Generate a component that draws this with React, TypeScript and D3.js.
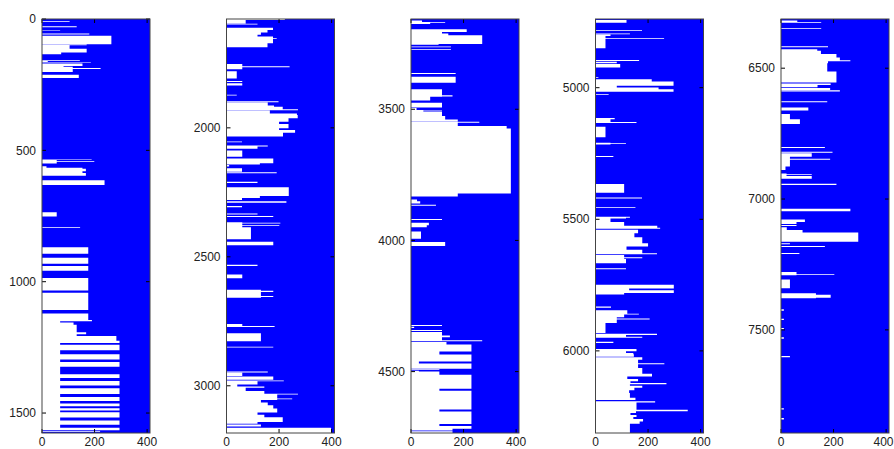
import React from 'react';
import * as d3 from 'd3';

// x axis (value) ticks and domain
const xTicks = [0, 200, 400];
const xDomain: [number, number] = [0, 411];

// depth range shown in each panel
const panelDomains: [number, number][] = [
  [0, 1576],
  [1578, 3183],
  [3156, 4734],
  [4739, 6312],
  [6312, 7894],
];

const panelYTicks: number[][] = [
  [0, 500, 1000, 1500],
  [2000, 2500, 3000],
  [3500, 4000, 4500],
  [5000, 5500, 6000],
  [6500, 7000, 7500],
];

// [top depth, bottom depth, value]
const seg1: [number, number, number][] = [
  [8, 10, 105], [28, 31, 132], [42, 44, 69], [55, 59, 180], [64, 96, 264],
  [97, 100, 170], [100, 113, 105], [113, 128, 170], [128, 134, 73],
  [157, 160, 144], [160, 164, 22], [165, 167, 186], [169, 179, 154], [179, 182, 82],
  [182, 187, 117], [187, 190, 223], [190, 202, 117], [212, 225, 140],
  [535, 537, 189], [541, 543, 199], [536, 550, 56], [561, 566, 17], [566, 570, 154],
  [570, 580, 167], [580, 586, 154], [586, 597, 167], [614, 632, 238], [736, 752, 56],
  [792, 795, 145], [869, 894, 176], [909, 932, 176], [940, 958, 176], [986, 1034, 176],
  [1042, 1108, 176], [1121, 1149, 176], [1146, 1151, 190], [1149, 1566, 69],
  [1155, 1164, 120], [1164, 1192, 132], [1192, 1200, 168], [1200, 1207, 132],
  [1207, 1225, 283], [1225, 1233, 295],
  [1240, 1261, 295], [1276, 1296, 295], [1306, 1324, 295], [1352, 1367, 295],
  [1378, 1395, 295], [1406, 1428, 295], [1439, 1454, 295], [1464, 1474, 295],
  [1482, 1490, 295], [1497, 1517, 295], [1528, 1545, 295], [1556, 1566, 295],
  [1568, 1571, 221],
];

const seg2: [number, number, number][] = [
  [1578, 1582, 222], [1582, 1595, 73], [1596, 1599, 118], [1612, 1621, 177],
  [1621, 1630, 156], [1630, 1639, 131], [1639, 1646, 118], [1646, 1672, 177],
  [1653, 1656, 191], [1672, 1688, 156], [1752, 1773, 60], [1761, 1765, 240],
  [1781, 1809, 39], [1818, 1822, 60], [1827, 1836, 60], [1872, 1875, 39],
  [1897, 1901, 198], [1902, 1913, 157], [1913, 1918, 181], [1918, 1928, 214],
  [1928, 1932, 272], [1933, 1944, 165], [1944, 1950, 268], [1950, 1963, 271],
  [1963, 1976, 236], [1976, 1985, 200], [1985, 2002, 236], [2002, 2008, 200],
  [2008, 2019, 261], [2019, 2034, 215], [2053, 2056, 59], [2068, 2072, 157],
  [2072, 2081, 118], [2088, 2112, 60], [2119, 2137, 178], [2137, 2142, 127],
  [2144, 2150, 10], [2157, 2170, 59], [2172, 2176, 191], [2209, 2214, 118],
  [2230, 2264, 237], [2264, 2272, 127], [2272, 2280, 59], [2285, 2290, 228],
  [2303, 2308, 59], [2332, 2336, 118], [2342, 2346, 178], [2366, 2385, 60],
  [2368, 2371, 205], [2377, 2380, 201], [2385, 2432, 93], [2442, 2455, 178],
  [2531, 2536, 118], [2569, 2583, 60], [2628, 2659, 131], [2632, 2636, 178],
  [2652, 2656, 178], [2760, 2770, 60], [2768, 2772, 183], [2796, 2827, 131],
  [2849, 2852, 178], [2945, 2948, 157], [2949, 2962, 60], [2964, 2977, 178],
  [2979, 2982, 218], [2982, 2995, 118], [2995, 3003, 41], [3003, 3008, 144],
  [3008, 3020, 73], [3020, 3031, 144], [3031, 3034, 272], [3034, 3055, 193],
  [3049, 3052, 250], [3055, 3065, 131], [3065, 3075, 157], [3075, 3088, 178],
  [3088, 3104, 193], [3104, 3112, 118], [3112, 3122, 144], [3122, 3140, 214],
  [3140, 3147, 118], [3150, 3158, 131], [3163, 3184, 398],
];

const seg3: [number, number, number][] = [
  [3162, 3167, 42], [3167, 3170, 130], [3170, 3175, 73], [3195, 3206, 212],
  [3206, 3211, 118], [3211, 3218, 142], [3218, 3251, 271], [3252, 3255, 105],
  [3261, 3264, 152], [3270, 3273, 152], [3362, 3366, 170], [3376, 3399, 170],
  [3424, 3452, 118], [3447, 3451, 158], [3452, 3467, 73], [3475, 3493, 118],
  [3495, 3503, 21], [3503, 3510, 47], [3505, 3508, 118], [3510, 3526, 118],
  [3526, 3539, 130], [3539, 3547, 178], [3548, 3551, 260], [3551, 3564, 178],
  [3564, 3573, 364], [3573, 3821, 380], [3821, 3833, 178], [3844, 3851, 23],
  [3851, 3859, 35], [3864, 3868, 95], [3918, 3922, 118], [3933, 3942, 68],
  [3942, 3950, 60], [3966, 3994, 38], [4006, 4021, 130], [4322, 4326, 118],
  [4329, 4334, 12], [4341, 4345, 118], [4349, 4362, 118], [4362, 4369, 148],
  [4369, 4380, 118], [4380, 4384, 271], [4387, 4397, 135], [4397, 4423, 230],
  [4423, 4435, 108], [4435, 4461, 230], [4461, 4469, 30], [4469, 4489, 230],
  [4491, 4494, 108], [4497, 4500, 30], [4500, 4512, 108], [4512, 4565, 230],
  [4565, 4573, 108], [4573, 4644, 230], [4644, 4652, 108], [4652, 4700, 230],
  [4700, 4707, 108], [4707, 4718, 230], [4718, 4724, 158], [4727, 4734, 158],
];

const seg4: [number, number, number][] = [
  [4743, 4753, 118], [4782, 4785, 177], [4794, 4797, 131], [4798, 4804, 57],
  [4804, 4850, 38], [4812, 4815, 261], [4895, 4899, 166], [4901, 4907, 81],
  [4910, 4923, 94], [4959, 4962, 11], [4968, 4976, 214], [4976, 4993, 297],
  [4993, 4999, 81], [4999, 5006, 240], [5006, 5015, 297], [5025, 5028, 50],
  [5115, 5120, 73], [5120, 5130, 57], [5130, 5134, 156], [5148, 5188, 38],
  [5209, 5216, 57], [5211, 5214, 116], [5260, 5263, 68], [5366, 5399, 109],
  [5417, 5421, 177], [5453, 5456, 152], [5490, 5494, 131], [5494, 5497, 116],
  [5497, 5510, 57], [5510, 5525, 109], [5525, 5532, 235], [5532, 5536, 246],
  [5540, 5553, 162], [5553, 5568, 148], [5568, 5591, 178], [5591, 5603, 200],
  [5603, 5616, 118], [5616, 5629, 178], [5629, 5633, 234], [5636, 5651, 109],
  [5644, 5648, 178], [5651, 5667, 116], [5686, 5690, 116], [5749, 5763, 298],
  [5763, 5770, 128], [5770, 5780, 298], [5780, 5786, 109], [5831, 5836, 59],
  [5846, 5859, 121], [5859, 5862, 165], [5859, 5872, 109], [5877, 5881, 206],
  [5872, 5894, 81], [5894, 5932, 38], [5935, 5940, 234], [5940, 5948, 116],
  [5946, 5950, 178], [5965, 5970, 68], [5993, 6001, 156], [6001, 6008, 116],
  [6008, 6013, 144], [6013, 6022, 146], [6024, 6034, 178], [6034, 6065, 162],
  [6047, 6051, 262], [6065, 6087, 178], [6087, 6097, 215], [6097, 6107, 121],
  [6107, 6115, 162], [6115, 6122, 133], [6122, 6127, 270], [6127, 6132, 131],
  [6132, 6140, 178], [6140, 6150, 148], [6150, 6160, 128], [6160, 6178, 131],
  [6178, 6187, 152], [6191, 6196, 227], [6196, 6224, 156], [6224, 6229, 351],
  [6229, 6236, 154], [6236, 6244, 133], [6244, 6251, 156], [6251, 6259, 144],
  [6259, 6268, 181], [6268, 6277, 168], [6277, 6312, 131],
];

const seg5: [number, number, number][] = [
  [6318, 6323, 62], [6323, 6326, 153], [6347, 6350, 153], [6416, 6420, 179],
  [6428, 6433, 138], [6433, 6446, 152], [6446, 6459, 211], [6459, 6471, 224],
  [6470, 6473, 264], [6471, 6481, 179], [6481, 6513, 176], [6513, 6555, 211],
  [6558, 6564, 189], [6564, 6573, 139], [6576, 6583, 187], [6584, 6589, 224],
  [6626, 6630, 176], [6650, 6662, 104], [6675, 6695, 34], [6695, 6713, 72],
  [6801, 6805, 167], [6819, 6823, 196], [6825, 6838, 117], [6846, 6850, 187],
  [6838, 6876, 34], [6876, 6889, 17], [6902, 6912, 21], [6904, 6907, 117],
  [6912, 6922, 117], [6942, 6946, 211], [7037, 7047, 264], [7078, 7088, 91],
  [7088, 7095, 59], [7099, 7103, 59], [7108, 7118, 22], [7118, 7128, 82],
  [7128, 7163, 294], [7169, 7173, 34], [7179, 7183, 167], [7206, 7210, 70],
  [7279, 7291, 59], [7287, 7290, 203], [7307, 7341, 34], [7360, 7379, 133],
  [7366, 7377, 189], [7421, 7427, 11], [7457, 7462, 11], [7493, 7498, 11],
  [7528, 7534, 11], [7600, 7605, 34], [7799, 7804, 11], [7837, 7842, 11],
];

const panelSegments = [seg1, seg2, seg3, seg4, seg5];

const W = 894;
const H = 449;
const plotTop = 19;
const plotBottom = 433;
const panelLefts = [42, 226.5, 411, 595.5, 781];
const panelWidth = 108;
const BLUE = '#0000ff';
const FONT = '"Liberation Sans", Arial, Helvetica, sans-serif';

function Panel({ idx }: { idx: number }) {
  const left = panelLefts[idx];
  const right = left + panelWidth;
  const x = d3.scaleLinear().domain(xDomain).range([left, right]);
  const y = d3.scaleLinear().domain(panelDomains[idx]).range([plotTop, plotBottom]);
  const clipId = `clip-${idx}`;
  const tl = 4;

  // one combined path so adjacent segments have no anti-aliasing seams
  const p = d3.path();
  panelSegments[idx].forEach((s) => {
    const x0 = x(0);
    const w = x(s[2]) - x0;
    const y0 = y(s[0]);
    const h = y(s[1]) - y0;
    if (w > 0 && h > 0) p.rect(x0, y0, w, h);
  });

  return (
    <g>
      <defs>
        <clipPath id={clipId}>
          <rect x={left} y={plotTop} width={panelWidth} height={plotBottom - plotTop} />
        </clipPath>
      </defs>
      <rect x={left} y={plotTop} width={panelWidth} height={plotBottom - plotTop} fill={BLUE} />
      <path d={p.toString()} fill="#ffffff" fillRule="nonzero" clipPath={`url(#${clipId})`} />
      {panelYTicks[idx].map((t) => (
        <g key={`y${t}`}>
          <line x1={left} x2={left + tl} y1={y(t)} y2={y(t)} stroke="#000" strokeWidth={1} />
          <line x1={right - tl} x2={right} y1={y(t)} y2={y(t)} stroke="#000" strokeWidth={1} />
          <text
            x={left - 6}
            y={y(t) + 4.2}
            textAnchor="end"
            fontFamily={FONT}
            fontSize={12}
            fill="#222"
          >
            {t}
          </text>
        </g>
      ))}
      {xTicks.map((t) => (
        <g key={`x${t}`}>
          <line x1={x(t)} x2={x(t)} y1={plotBottom} y2={plotBottom - tl} stroke="#000" strokeWidth={1} />
          <line x1={x(t)} x2={x(t)} y1={plotTop} y2={plotTop + tl} stroke="#000" strokeWidth={1} />
          <text
            x={Math.min(x(t), W - 10.5)}
            y={445.5}
            textAnchor="middle"
            fontFamily={FONT}
            fontSize={12}
            fill="#222"
          >
            {t}
          </text>
        </g>
      ))}
      <rect
        x={left}
        y={plotTop}
        width={panelWidth}
        height={plotBottom - plotTop}
        fill="none"
        stroke="#444"
        strokeWidth={1}
      />
    </g>
  );
}

export default function App() {
  return (
    <svg
      width={W}
      height={H}
      style={{ position: 'absolute', left: 0, top: 0, background: '#fff' }}
    >
      <rect x={0} y={0} width={W} height={H} fill="#fff" />
      {panelDomains.map((_, i) => (
        <Panel key={i} idx={i} />
      ))}
    </svg>
  );
}
